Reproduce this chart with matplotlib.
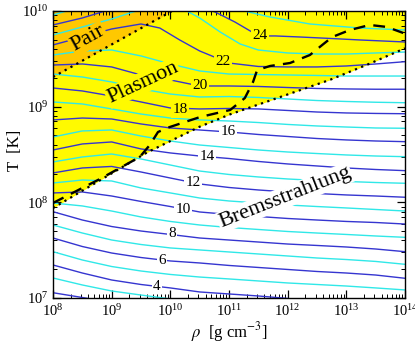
import numpy as np
import matplotlib
matplotlib.use("Agg")
import matplotlib.pyplot as plt

plt.rcParams['font.family'] = 'serif'
plt.rcParams['font.serif'] = ['Liberation Serif', 'DejaVu Serif']
plt.rcParams['mathtext.fontset'] = 'stix'

# contour lines of log10 Q (log10 rho, log10 T)
lr_cols = [8.0, 8.5, 9.0, 9.5, 10.0, 10.5, 11.0, 11.5, 12.0, 12.5, 13.0, 13.5, 14.0]

q02_lr = [8.0, 8.6]
q02_lT = [7.055, 6.995]
q03_lr = [8.0, 8.5, 9.0, 9.5, 10.0]
q03_lT = [7.209, 7.136, 7.073, 7.031, 6.99]
q04_lr = [8.0, 8.5, 9.0, 9.5, 10.0, 10.5, 11.0, 11.5, 12.0]
q04_lT = [7.345, 7.261, 7.188, 7.141, 7.105, 7.063, 7.042, 7.021, 6.995]
q05_lT = [7.484, 7.397, 7.329, 7.282, 7.246, 7.219, 7.199, 7.178, 7.157, 7.141, 7.125, 7.105, 7.084]
q06_lT = [7.627, 7.538, 7.47, 7.423, 7.387, 7.366, 7.34, 7.319, 7.298, 7.277, 7.261, 7.24, 7.206]
q07_lT = [7.763, 7.679, 7.606, 7.559, 7.523, 7.502, 7.481, 7.46, 7.439, 7.418, 7.402, 7.382, 7.352]
q08_lT = [7.902, 7.815, 7.747, 7.7, 7.664, 7.627, 7.606, 7.585, 7.564, 7.549, 7.533, 7.512, 7.484]
q09_lT = [7.993, 7.962, 7.909, 7.847, 7.8, 7.763, 7.737, 7.716, 7.695, 7.679, 7.664, 7.648, 7.634]
q10_lT = [8.098, 8.108, 8.066, 8.009, 7.956, 7.899, 7.873, 7.852, 7.831, 7.815, 7.8, 7.789, 7.773]
q11_lT = [8.202, 8.233, 8.223, 8.15, 8.098, 8.045, 8.014, 7.993, 7.972, 7.956, 7.941, 7.925, 7.909]
q12_lT = [8.307, 8.359, 8.375, 8.317, 8.254, 8.192, 8.155, 8.129, 8.108, 8.092, 8.077, 8.066, 8.053]
q13_lT = [8.422, 8.474, 8.505, 8.453, 8.39, 8.327, 8.291, 8.265, 8.244, 8.228, 8.218, 8.207, 8.199]
q14_lT = [8.547, 8.61, 8.631, 8.558, 8.516, 8.484, 8.458, 8.427, 8.401, 8.38, 8.359, 8.343, 8.331]
q15_lT = [8.683, 8.746, 8.756, 8.693, 8.641, 8.599, 8.573, 8.547, 8.526, 8.51, 8.495, 8.484, 8.477]
q16_lT = [8.861, 8.881, 8.871, 8.819, 8.777, 8.756, 8.735, 8.709, 8.688, 8.667, 8.652, 8.641, 8.634]
q17_lT = [9.049, 9.028, 8.976, 8.923, 8.881, 8.861, 8.85, 8.834, 8.814, 8.798, 8.787, 8.777, 8.774]
q18_lT = [9.195, 9.164, 9.111, 9.049, 8.986, 8.976, 8.981, 8.976, 8.96, 8.944, 8.934, 8.929, 8.926]
q19_lT = [9.341, 9.31, 9.258, 9.185, 9.132, 9.101, 9.106, 9.096, 9.08, 9.064, 9.054, 9.046, 9.041]
q20_lT = [9.435, 9.446, 9.415, 9.331, 9.279, 9.216, 9.216, 9.211, 9.2, 9.19, 9.185, 9.182, 9.182]
q21_lT = [9.54, 9.582, 9.592, 9.53, 9.446, 9.373, 9.341, 9.336, 9.331, 9.326, 9.32, 9.32, 9.32]
q22_lr = [8.0, 8.5, 9.0, 9.5, 9.82, 10.16, 10.5, 10.79, 11.0, 11.5, 12.0, 12.5, 13.0, 13.5, 14.0]
q22_lT = [9.645, 9.728, 9.812, 9.864, 9.822, 9.697, 9.582, 9.509, 9.456, 9.42, 9.415, 9.415, 9.425, 9.446, 9.47]
q23a_lr = [8.0, 8.5, 9.0, 9.31, 9.48]
q23a_lT = [9.749, 9.833, 9.916, 9.979, 10.01]
q23b_lr = [10.25, 10.5, 10.85, 11.19, 11.5, 12.0, 12.5, 13.0, 13.5, 14.0]
q23b_lT = [10.01, 9.927, 9.78, 9.655, 9.592, 9.561, 9.55, 9.55, 9.561, 9.571]
q24a_lr = [8.0, 8.5, 8.89, 9.06]
q24a_lT = [9.854, 9.927, 10.0, 10.02]
q24b_lr = [10.59, 10.76, 11.1, 11.39, 11.53, 11.79, 12.21, 12.72, 13.23, 14.0]
q24b_lT = [10.02, 9.99, 9.885, 9.781, 9.739, 9.739, 9.728, 9.713, 9.697, 9.676]
q25a_lr = [8.0, 8.29]
q25a_lT = [9.958, 10.01]
q25b_lr = [11.19, 11.7, 12.38, 13.23, 14.0]
q25b_lT = [10.01, 9.937, 9.864, 9.822, 9.801]

label_levels = [4, 6, 8, 10, 12, 14, 16, 18, 20, 22, 24]
label_lr = [9.773, 9.858, 10.028, 10.216, 10.386, 10.625, 10.983, 10.165, 10.506, 10.898, 11.528]
label_lT = [7.125, 7.397, 7.669, 7.930, 8.202, 8.474, 8.735, 8.965, 9.216, 9.477, 9.739]

# domain boundaries
brems_lr = [8.0, 8.8, 9.6, 10.5, 11.02, 11.87, 12.72, 13.4, 14.0]
brems_lT = [7.94, 8.23, 8.52, 8.79, 8.92, 9.10, 9.28, 9.45, 9.61]
pair_lr = [8.0, 10.03]
pair_lT = [9.31, 10.0]
dash_lr = [8.0, 8.8, 9.48, 9.65, 9.79, 9.99, 10.51, 11.02, 11.27, 11.41, 11.48,
           11.70, 12.04, 12.38, 12.59, 12.76, 13.06, 13.40, 13.69, 13.97]
dash_lT = [7.993, 8.244, 8.474, 8.599, 8.735, 8.787, 8.892, 8.965, 9.09, 9.258, 9.383,
           9.425, 9.456, 9.54, 9.645, 9.728, 9.801, 9.854, 9.833, 9.77]

yellow = '#fffa00'
orange = '#ffc800'
dark = '#3535d0'
light = '#30e8e8'

lines = [
    (2, q02_lr, q02_lT), (3, q03_lr, q03_lT), (4, q04_lr, q04_lT),
    (5, lr_cols, q05_lT), (6, lr_cols, q06_lT), (7, lr_cols, q07_lT),
    (8, lr_cols, q08_lT), (9, lr_cols, q09_lT), (10, lr_cols, q10_lT),
    (11, lr_cols, q11_lT), (12, lr_cols, q12_lT), (13, lr_cols, q13_lT),
    (14, lr_cols, q14_lT), (15, lr_cols, q15_lT), (16, lr_cols, q16_lT),
    (17, lr_cols, q17_lT), (18, lr_cols, q18_lT), (19, lr_cols, q19_lT),
    (20, lr_cols, q20_lT), (21, lr_cols, q21_lT), (22, q22_lr, q22_lT),
    (23, q23a_lr, q23a_lT), (23, q23b_lr, q23b_lT),
    (24, q24a_lr, q24a_lT), (24, q24b_lr, q24b_lT),
    (25, q25a_lr, q25a_lT), (25, q25b_lr, q25b_lT),
]

fig = plt.figure(figsize=(4.15, 3.42), dpi=100)
ax = fig.add_axes([0.1277, 0.1287, 0.8482, 0.8392])
ax.set_xscale('log')
ax.set_yscale('log')

p = lambda a: 10.0 ** np.asarray(a)

ax.fill_between(p(brems_lr), p(brems_lT), 1e10, color=yellow, lw=0, zorder=0)
ax.fill_between(p(pair_lr), p(pair_lT), 1e10, color=orange, lw=0, zorder=0.5)

for lev, xr, yt in lines:
    ax.plot(p(xr), p(yt), color=dark if lev % 2 == 0 else light, lw=1.0, zorder=2)

ax.plot(p(brems_lr), p(brems_lT), color='k', ls=(0, (1, 2)), lw=1.6, zorder=3)
ax.plot(p(pair_lr), p(pair_lT), color='k', ls=(0, (1, 2)), lw=1.6, zorder=3)
ax.plot(p(dash_lr), p(dash_lT), color='k', ls=(0, (5, 3.5)), lw=1.7, zorder=4)

for lev, xr, yt in zip(label_levels, label_lr, label_lT):
    bg = 'white' if lev <= 16 else yellow
    ax.text(10 ** xr, 10 ** yt, str(lev), fontsize=11, ha='center', va='center', zorder=5,
            bbox=dict(boxstyle='square,pad=0.1', fc=bg, ec='none'))

ax.text(10 ** 8.6, 10 ** 9.71, 'Pair', fontsize=16, rotation=29, ha='center', va='center',
        zorder=5, bbox=dict(boxstyle='square,pad=0.05', fc=orange, ec='none'))
ax.text(10 ** 9.53, 10 ** 9.25, 'Plasmon', fontsize=16, rotation=25, ha='center', va='center',
        zorder=5, bbox=dict(boxstyle='square,pad=0.05', fc=yellow, ec='none'))
ax.text(10 ** 11.95, 10 ** 8.05, 'Bremsstrahlung', fontsize=16, rotation=21.5, ha='center',
        va='center', zorder=5, bbox=dict(boxstyle='square,pad=0.05', fc='white', ec='none'))

ax.set_xlim(1e8, 1e14)
ax.set_ylim(1e7, 1e10)
ax.tick_params(which='both', direction='in', top=True, right=True, labelsize=10.5)
ax.tick_params(axis='x', pad=4)
ax.tick_params(axis='y', pad=3)
ax.tick_params(which='major', length=6, width=0.9)
ax.tick_params(which='minor', length=3, width=0.7)
for s in ax.spines.values():
    s.set_linewidth(1.0)

ax.set_xlabel(r'$\rho$  [g cm$^{-3}$]', fontsize=12)
ax.set_ylabel('T  [K]', fontsize=12)
ax.xaxis.set_label_coords(0.5, -0.076)
ax.yaxis.set_label_coords(-0.085, 0.516)

fig.savefig('out.png', dpi=100)
